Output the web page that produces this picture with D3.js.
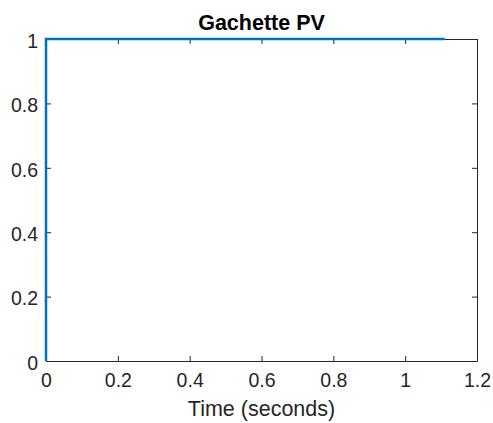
<!DOCTYPE html>
<html>
<head>
<meta charset="utf-8">
<script src="https://cdn.jsdelivr.net/npm/d3@7"></script>
<style>
  html, body { margin: 0; padding: 0; background: #ffffff; }
  svg { display: block; font-family: "Liberation Sans", Arial, Helvetica, sans-serif; }
</style>
</head>
<body>
<svg id="chart" width="493" height="423"></svg>
<script>
// Trigger signal over time
const timeValues = [0, 0, 1.11];
const signalValues = [0, 1, 1];
const xTicks = [0, 0.2, 0.4, 0.6, 0.8, 1, 1.2];
const yTicks = [0, 0.2, 0.4, 0.6, 0.8, 1];
const titleText = "Gachette PV";
const xLabelText = "Time (seconds)";

const svg = d3.select("#chart");
const margin = { left: 46, right: 16, top: 39, bottom: 62 };
const W = 493, H = 423;

const x = d3.scaleLinear().domain([0, 1.2]).range([margin.left, W - margin.right]);
const y = d3.scaleLinear().domain([0, 1]).range([H - margin.bottom, margin.top]);

const axisColor = "#262626";
const fmt = d => d3.format("~g")(d);
const tickFont = 19.5;
const labelFont = 21.5;

// bottom axis
const gx = svg.append("g").attr("transform", `translate(0,${y(0)})`)
  .call(d3.axisBottom(x).tickValues(xTicks).tickFormat(fmt).tickSizeInner(-5).tickSizeOuter(0).tickPadding(12));
// top axis (ticks only)
const gxt = svg.append("g").attr("transform", `translate(0,${y(1)})`)
  .call(d3.axisTop(x).tickValues(xTicks).tickFormat("").tickSizeInner(-5).tickSizeOuter(0));
// left axis
const gy = svg.append("g").attr("transform", `translate(${x(0)},0)`)
  .call(d3.axisLeft(y).tickValues(yTicks).tickFormat(fmt).tickSizeInner(-5).tickSizeOuter(0).tickPadding(8));
// right axis (ticks only)
const gyr = svg.append("g").attr("transform", `translate(${x(1.2)},0)`)
  .call(d3.axisRight(y).tickValues(yTicks).tickFormat("").tickSizeInner(-5).tickSizeOuter(0));

[gx, gxt, gy, gyr].forEach(g => {
  g.attr("font-size", null).attr("font-family", null);
  g.selectAll("path.domain").attr("stroke", axisColor).attr("stroke-width", 1);
  g.selectAll(".tick line").attr("stroke", axisColor).attr("stroke-width", 1);
  g.selectAll(".tick text").attr("fill", axisColor)
    .style("font-size", tickFont + "px")
    .style("font-family", "'Liberation Sans', Arial, sans-serif");
});
gx.selectAll(".tick text").attr("dy", "0.71em");
gy.selectAll(".tick text").attr("dy", "0.42em");

// signal line
const line = d3.line().x((d, i) => x(timeValues[i])).y(d => y(d));
svg.append("path")
  .datum(signalValues)
  .attr("fill", "none")
  .attr("stroke", "#0072BD")
  .attr("stroke-width", 2.5)
  .attr("d", line);

// title
svg.append("text")
  .attr("x", (x(0) + x(1.2)) / 2).attr("y", 30)
  .attr("text-anchor", "middle")
  .style("font-size", labelFont + "px").attr("font-weight", "bold").attr("fill", "#000")
  .text(titleText);

// x label
svg.append("text")
  .attr("x", (x(0) + x(1.2)) / 2).attr("y", 416)
  .attr("text-anchor", "middle")
  .style("font-size", labelFont + "px").attr("fill", axisColor)
  .text(xLabelText);
</script>
</body>
</html>
